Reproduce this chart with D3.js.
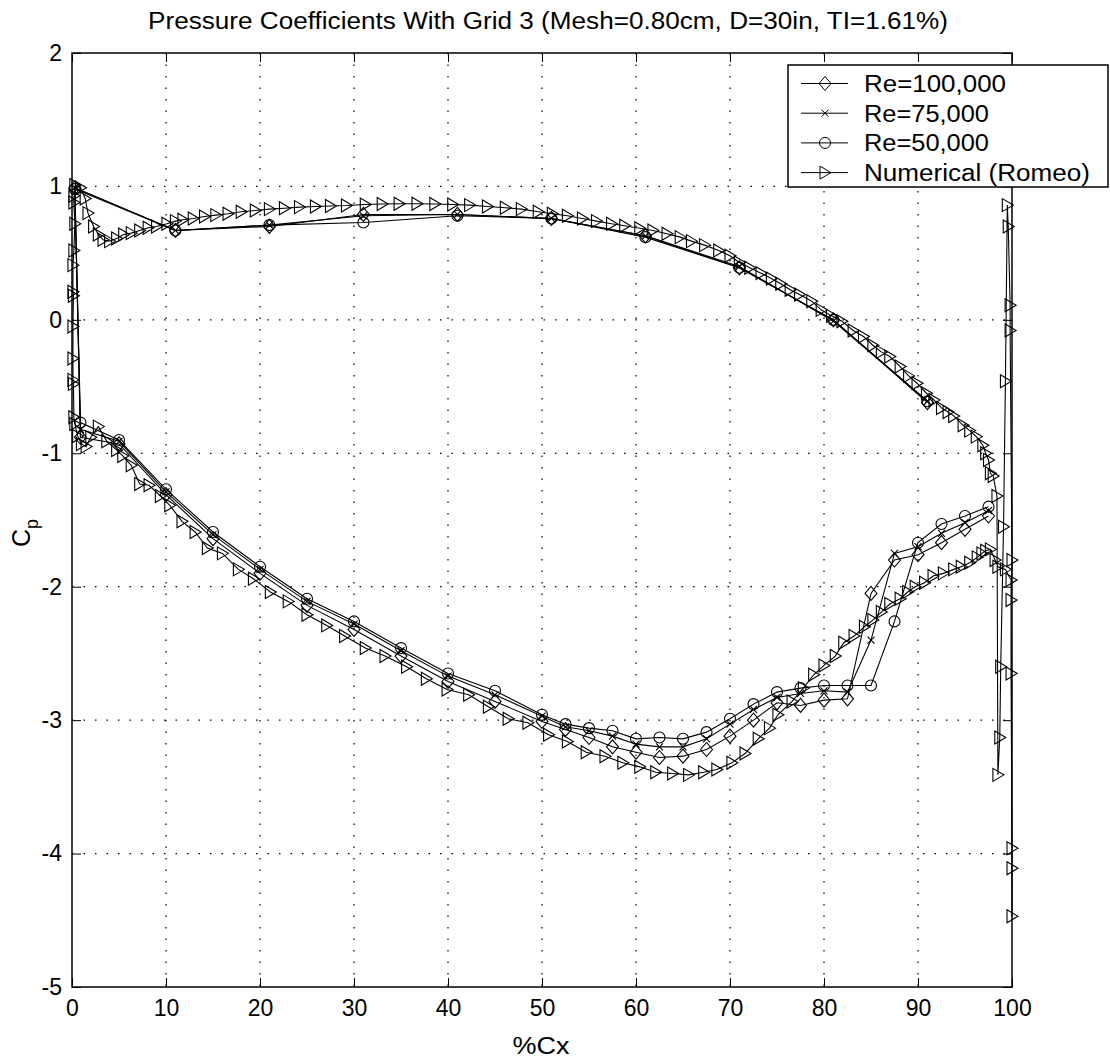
<!DOCTYPE html>
<html><head><meta charset="utf-8">
<script src="https://cdn.jsdelivr.net/npm/d3@7"></script>
<style>body{margin:0;background:#fff}svg{display:block}</style>
</head><body>
<script>
const titleText = "Pressure Coefficients With Grid 3 (Mesh=0.80cm, D=30in, TI=1.61%)";
const xTicks = [0,10,20,30,40,50,60,70,80,90,100];
const yTicks = [-5,-4,-3,-2,-1,0,1,2];
const seriesNames = ["Re=100,000","Re=75,000","Re=50,000","Numerical (Romeo)"];

// experimental stations: lower surface (TE -> LE) then upper surface (LE -> TE)
const expX = [97.5,95,92.5,90,87.5,85,82.5,80,77.5,75,72.5,70,67.5,65,62.5,60,57.5,55,52.5,50,45,40,35,30,25,20,15,10,5,0.9,
              0.3,11,21,31,41,51,61,71,81,91];
const re100 = [-1.47,-1.57,-1.67,-1.76,-1.80,-2.05,-2.84,-2.85,-2.89,-2.87,-3.00,-3.12,-3.22,-3.27,-3.28,-3.24,-3.20,-3.13,-3.07,-3.01,-2.86,-2.71,-2.52,-2.32,-2.14,-1.90,-1.64,-1.31,-0.93,-0.88,
               0.99,0.67,0.70,0.79,0.79,0.76,0.63,0.39,0.00,-0.62];
const re75 = [-1.43,-1.52,-1.60,-1.70,-1.75,-2.40,-2.79,-2.78,-2.80,-2.83,-2.92,-3.03,-3.14,-3.20,-3.20,-3.18,-3.12,-3.08,-3.05,-2.97,-2.81,-2.67,-2.48,-2.28,-2.11,-1.87,-1.61,-1.29,-0.91,-0.82,
              0.99,0.67,0.71,0.78,0.79,0.76,0.63,0.40,-0.01,-0.61];
const re50 = [-1.40,-1.47,-1.53,-1.67,-2.26,-2.74,-2.74,-2.74,-2.76,-2.79,-2.88,-2.99,-3.09,-3.14,-3.13,-3.14,-3.08,-3.06,-3.03,-2.96,-2.78,-2.65,-2.46,-2.26,-2.09,-1.85,-1.59,-1.27,-0.90,-0.77,
              0.98,0.67,0.71,0.73,0.78,0.76,0.62,0.39,0.00,-0.61];

// numerical (Romeo): closed path around the blade
const numX = [0.3,0.9,1.4,1.7,2.3,2.8,3.3,4.0,4.75,5.5,6.3,7.2,8.1,9.0,10.1,11.0,11.8,12.9,14.1,15.3,16.6,18.0,19.5,21.0,22.6,24.2,25.9,27.5,29.2,31.2,33.0,34.8,36.7,38.6,40.5,42.3,44.2,46.1,47.8,49.6,51.1,52.7,54.3,55.8,57.4,58.8,60.4,61.8,63.3,64.7,65.9,67.3,68.8,70.0,71.0,72.1,73.3,74.4,75.4,76.4,77.4,78.7,79.7,80.8,81.9,83.1,84.2,85.2,86.1,87.0,88.1,89.0,89.9,90.9,91.7,92.5,93.2,93.8,94.8,95.5,96.2,96.9,97.2,97.5,97.7,98.0,98.4,
  98.5,98.7,98.8,99.1,99.3,99.5,99.6,99.8,99.8,100,99.9,99.9,100,100,100,99.9,99.3,98.5,98.2,
  97.7,97.2,96.8,96.3,95.5,94.6,93.8,92.7,91.6,90.7,89.7,88.9,88.1,87.0,86.1,85.2,84.3,83.2,82.1,81.2,80.0,78.9,77.8,76.6,75.1,74.2,73.0,71.6,70.2,68.6,67.2,65.6,63.9,62.1,60.4,58.6,56.7,54.7,52.7,50.7,48.5,46.4,44.3,42.2,39.9,37.7,35.6,33.3,31.2,29.0,27.1,25.0,23.0,21.1,19.3,17.7,16.0,14.4,13.1,11.7,10.4,9.4,8.2,7.2,6.3,5.4,4.75,3.7,2.8,2.0,1.5,1.0,0.6,0.3,
  0.2,0.15,0.1,0.1,0.1,0.15,0.1,0.1,0.2,0.3,0.2,0.2];
const numCp = [1.01,0.99,0.91,0.80,0.70,0.64,0.60,0.59,0.61,0.64,0.65,0.67,0.69,0.70,0.72,0.74,0.75,0.76,0.775,0.785,0.795,0.81,0.82,0.83,0.837,0.845,0.85,0.853,0.857,0.865,0.868,0.87,0.87,0.868,0.865,0.86,0.85,0.84,0.83,0.81,0.795,0.78,0.76,0.74,0.72,0.705,0.687,0.67,0.645,0.62,0.59,0.56,0.52,0.48,0.43,0.39,0.35,0.31,0.27,0.225,0.19,0.14,0.075,0.03,-0.01,-0.08,-0.125,-0.19,-0.24,-0.275,-0.35,-0.42,-0.475,-0.55,-0.60,-0.66,-0.69,-0.72,-0.79,-0.83,-0.875,-0.94,-1.0,-1.05,-1.15,-1.17,-1.32,
  -3.41,-3.13,-2.60,-1.55,-0.46,0.86,0.70,0.11,-0.08,-1.80,-2.10,-2.65,-3.96,-4.11,-4.47,-1.95,-1.87,-1.85,-1.80,
  -1.72,-1.73,-1.75,-1.78,-1.82,-1.85,-1.87,-1.90,-1.92,-1.97,-2.00,-2.04,-2.09,-2.13,-2.19,-2.25,-2.30,-2.37,-2.42,-2.52,-2.59,-2.66,-2.76,-2.86,-2.96,-3.06,-3.14,-3.25,-3.32,-3.37,-3.39,-3.41,-3.40,-3.39,-3.35,-3.32,-3.27,-3.24,-3.16,-3.11,-3.02,-2.99,-2.90,-2.81,-2.77,-2.69,-2.60,-2.52,-2.46,-2.37,-2.29,-2.21,-2.11,-2.04,-1.94,-1.87,-1.75,-1.71,-1.59,-1.51,-1.39,-1.32,-1.24,-1.23,-1.09,-1.02,-0.975,-0.91,-0.80,-0.88,-0.95,-0.93,-0.87,-0.78,
  -0.73,-0.48,-0.45,-0.29,-0.05,0.18,0.21,0.41,0.52,0.72,0.88,0.93];

const W = 1110, H = 1061;
const svg = d3.select("body").append("svg").attr("width", W).attr("height", H);
const FONT = "'Liberation Sans', Arial, Helvetica, sans-serif";
const m = {l:72, r:1012, t:53, b:987};
const x = d3.scaleLinear().domain([0,100]).range([m.l, m.r]);
const y = d3.scaleLinear().domain([-5,2]).range([m.b, m.t]);
const fmt = d => String(d);

// grid
const grid = svg.append("g").attr("stroke","#000").attr("stroke-width",1.2).attr("stroke-dasharray","1.5,10");
xTicks.slice(1,-1).forEach(t => grid.append("line").attr("x1",x(t)).attr("x2",x(t)).attr("y1",m.t).attr("y2",m.b));
yTicks.slice(1,-1).forEach(t => grid.append("line").attr("x1",m.l).attr("x2",m.r).attr("y1",y(t)).attr("y2",y(t)));

// axes with inward ticks
const tl = 9;
svg.append("g").attr("transform",`translate(0,${m.b})`).call(d3.axisBottom(x).tickValues(xTicks).tickSize(-tl).tickPadding(tl+4).tickFormat(fmt))
  .call(g=>{g.select(".domain").remove(); g.selectAll("text").attr("font-size",23).attr("font-family",FONT).attr("fill","#000");});
svg.append("g").attr("transform",`translate(0,${m.t})`).call(d3.axisTop(x).tickValues(xTicks).tickSize(-tl).tickFormat(""))
  .call(g=>g.select(".domain").remove());
svg.append("g").attr("transform",`translate(${m.l},0)`).call(d3.axisLeft(y).tickValues(yTicks).tickSize(-tl).tickPadding(tl+1).tickFormat(fmt))
  .call(g=>{g.select(".domain").remove(); g.selectAll("text").attr("font-size",23).attr("font-family",FONT).attr("fill","#000");});
svg.append("g").attr("transform",`translate(${m.r},0)`).call(d3.axisRight(y).tickValues(yTicks).tickSize(-tl).tickFormat(""))
  .call(g=>g.select(".domain").remove());
svg.selectAll(".tick line").attr("stroke","#000").attr("stroke-width",1);

// markers
const mk = {
  diamond: "M0,-7L6,0L0,7L-6,0Z",
  cross: "M-3.5,-3.5L3.5,3.5M-3.5,3.5L3.5,-3.5",
  circle: d3.symbol().type(d3.symbolCircle).size(Math.PI*5.5*5.5)(),
  tri: "M-5,-6.5L6,0L-5,6.5Z"
};
const line = d3.line().x(d=>x(d[0])).y(d=>y(d[1]));
const plotG = svg.append("g");
function drawSeries(xs, ys, marker){
  const pts = xs.map((v,i)=>[v, ys[i]]);
  plotG.append("path").attr("d", line(pts)).attr("fill","none").attr("stroke","#000").attr("stroke-width",1.1);
  plotG.selectAll(null).data(pts).enter().append("path")
    .attr("transform", d=>`translate(${x(d[0])},${y(d[1])})`)
    .attr("d", mk[marker]).attr("fill","none").attr("stroke","#000").attr("stroke-width",1.1);
}
drawSeries(expX, re100, "diamond");
drawSeries(expX, re75, "cross");
drawSeries(expX, re50, "circle");
drawSeries(numX, numCp, "tri");

// box
svg.append("rect").attr("x",m.l).attr("y",m.t).attr("width",m.r-m.l).attr("height",m.b-m.t)
  .attr("fill","none").attr("stroke","#000").attr("stroke-width",1.5);

// title & labels
svg.append("text").attr("x",548).attr("y",29).attr("text-anchor","middle").attr("font-family",FONT)
  .attr("font-size",23).attr("textLength",800).attr("lengthAdjust","spacingAndGlyphs").text(titleText);
svg.append("text").attr("x",541).attr("y",1054).attr("text-anchor","middle").attr("font-family",FONT)
  .attr("font-size",23).attr("textLength",57).attr("lengthAdjust","spacingAndGlyphs").text("%Cx");
const yl = svg.append("text").attr("transform","translate(30,533) rotate(-90)").attr("text-anchor","middle")
  .attr("font-family",FONT).attr("font-size",25);
yl.append("tspan").text("C");
yl.append("tspan").attr("font-size",18).attr("dy",8).text("p");

// legend
const lg = svg.append("g");
lg.append("rect").attr("x",788).attr("y",65).attr("width",320).attr("height",122).attr("fill","#fff")
  .attr("stroke","#000").attr("stroke-width",1.5);
const lmk = ["diamond","cross","circle","tri"];
const lgLen = [142,125,125,226];
seriesNames.forEach((n,i)=>{
  const cy = 83.5 + i*29.7;
  lg.append("line").attr("x1",801).attr("x2",848).attr("y1",cy).attr("y2",cy).attr("stroke","#000");
  lg.append("path").attr("transform",`translate(825,${cy})`).attr("d",mk[lmk[i]]).attr("fill","none").attr("stroke","#000");
  lg.append("text").attr("x",864).attr("y",cy+8.5).attr("font-family",FONT).attr("font-size",23)
    .attr("textLength",lgLen[i]).attr("lengthAdjust","spacingAndGlyphs").text(n);
});
</script>
</body></html>
